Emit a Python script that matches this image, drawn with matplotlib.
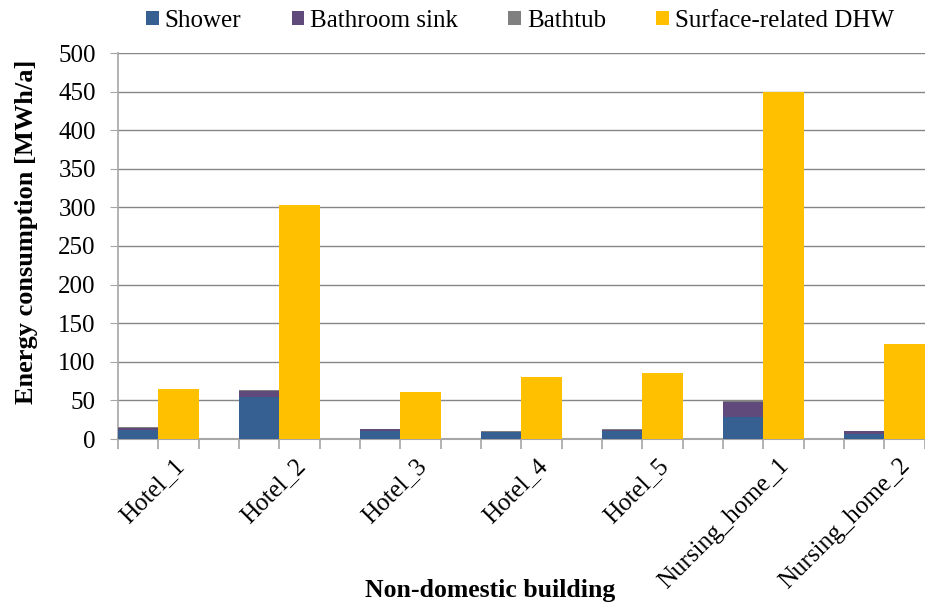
import matplotlib
matplotlib.use("Agg")
import matplotlib.pyplot as plt
import numpy as np

categories = ["Hotel_1", "Hotel_2", "Hotel_3", "Hotel_4", "Hotel_5",
              "Nursing_home_1", "Nursing_home_2"]
shower = [12, 54, 11, 8.5, 10.7, 28.5, 6.5]
bathroom_sink = [2.2, 8.6, 1.4, 1.0, 0.9, 19.8, 3.3]
bathtub = [1.7, 0.3, 0.3, 1.2, 1.7, 0.3, 0.2]
surface_dhw = [65, 303, 61, 80, 85, 450, 123]

series_names = ["Shower", "Bathroom sink", "Bathtub", "Surface-related DHW"]
colors = ["#376092", "#604A7B", "#808080", "#FFC000"]

plt.rcParams['font.family'] = ['Liberation Serif', 'DejaVu Serif']

W, H = 925, 605
fig = plt.figure(figsize=(W / 100, H / 100), dpi=100)
ax = fig.add_axes([118 / W, 166 / H, 847 / W, 386 / H])

n = len(categories)
idx = np.arange(n)
x_stack = idx * 3 + 0.5
x_dhw = idx * 3 + 1.5

s = np.array(shower)
b = np.array(bathroom_sink)
t = np.array(bathtub)
ax.bar(x_stack, s, width=1.0, color=colors[0], label=series_names[0], zorder=3)
ax.bar(x_stack, b, width=1.0, bottom=s, color=colors[1], label=series_names[1], zorder=3)
ax.bar(x_stack, t, width=1.0, bottom=s + b, color=colors[2], label=series_names[2], zorder=3)
ax.bar(x_dhw, surface_dhw, width=1.0, color=colors[3], label=series_names[3], zorder=3)

ax.set_xlim(0, 3 * n)
ax.set_ylim(0, 500)
ax.set_yticks(np.arange(0, 501, 50))
ax.yaxis.grid(True, color="#868686", linewidth=1.0, zorder=0)
ax.set_axisbelow(True)

# category labels, anchored slightly left of the group centre
ax.set_xticks(x_dhw - 0.13)
ax.set_xticklabels(categories, rotation=45, ha="right", va="top",
                   rotation_mode="anchor")
ax.set_xticks(np.arange(0, 3 * n + 1), minor=True)
ax.tick_params(axis="x", which="major", length=0, pad=11, labelsize=18)
ax.tick_params(axis="x", which="minor", length=7, color="#A6A6A6", width=1.2)
ax.tick_params(axis="y", length=6, color="#A6A6A6", labelsize=18, pad=10)

for sp in ["top", "right"]:
    ax.spines[sp].set_visible(False)
ax.spines["left"].set_color("#A6A6A6")
ax.spines["left"].set_linewidth(1.2)
ax.spines["bottom"].set_color("#A6A6A6")
ax.spines["bottom"].set_linewidth(1.5)

ax.set_ylabel("Energy consumption [MWh/a]", fontsize=19, fontweight="bold")
ax.yaxis.set_label_coords(-80 / 847, (439 - 232) / 386)
fig.text(490 / W, 1 - 590 / H, "Non-domestic building", fontsize=18.5,
         fontweight="bold", ha="center", va="center")

handles, labels = ax.get_legend_handles_labels()
fig.legend(handles, labels, loc="center", bbox_to_anchor=(520 / W, 1 - 21 / H),
           ncol=4, frameon=False, fontsize=18, handlelength=0.5, handleheight=0.5,
           handletextpad=0.25, columnspacing=2.0)

fig.savefig("out.png", dpi=100)
